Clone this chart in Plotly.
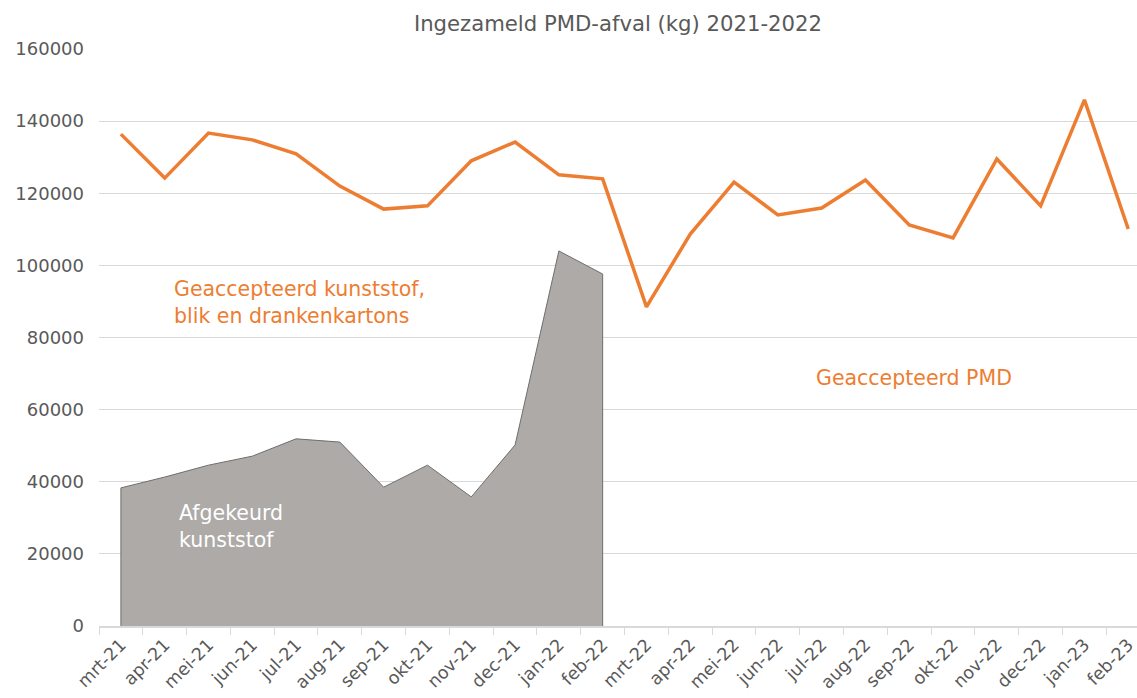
import plotly.graph_objects as go

months = ["mrt-21", "apr-21", "mei-21", "jun-21", "jul-21", "aug-21", "sep-21", "okt-21",
          "nov-21", "dec-21", "jan-22", "feb-22", "mrt-22", "apr-22", "mei-22", "jun-22",
          "jul-22", "aug-22", "sep-22", "okt-22", "nov-22", "dec-22", "jan-23", "feb-23"]

geaccepteerd = [136400, 124200, 136700, 134800, 130900, 122000, 115600, 116500,
                129000, 134200, 125100, 124000, 88500, 108700, 123100, 114000,
                115900, 123700, 111200, 107600, 129500, 116500, 145900, 110100]

afgekeurd_months = months[:12]
afgekeurd = [38300, 41300, 44600, 47100, 51900, 51000, 38500, 44600,
             35800, 50200, 104000, 97600]

y_ticks = [0, 20000, 40000, 60000, 80000, 100000, 120000, 140000, 160000]

FONT = "DejaVu Sans"
GRAY_TXT = "#595959"
ORANGE = "#ED7D31"

fig = go.Figure()

# closed polygon for the area (baseline at both ends)
area_x = [afgekeurd_months[0]] + afgekeurd_months + [afgekeurd_months[-1]]
area_y = [0] + afgekeurd + [0]
fig.add_trace(go.Scatter(
    x=area_x, y=area_y, mode="lines", fill="toself",
    fillcolor="#ADAAA8", line=dict(color="#6E6E6E", width=1),
    hoverinfo="skip", showlegend=False))

fig.add_trace(go.Scatter(
    x=months, y=geaccepteerd, mode="lines",
    line=dict(color=ORANGE, width=3.5), showlegend=False))

fig.update_layout(
    width=1137, height=698,
    margin=dict(l=99, r=0, t=49, b=72),
    paper_bgcolor="white", plot_bgcolor="white",
    font=dict(family=FONT, color=GRAY_TXT, size=18),
    title=dict(text="Ingezameld PMD-afval (kg) 2021-2022", x=0.5435, xanchor="center",
               y=0.966, yanchor="middle", font=dict(size=21.2, color=GRAY_TXT, family=FONT)),
)

fig.update_xaxes(
    type="category", categoryorder="array", categoryarray=months,
    range=[-0.5, 23.2], tickson="boundaries", ticks="outside", ticklen=7,
    tickcolor="#D9D9D9", tickangle=-45, showgrid=False, automargin=False,
    showline=True, linecolor="#D9D9D9", linewidth=1.5,
    tickfont=dict(size=17.5, color=GRAY_TXT, family=FONT))

fig.update_yaxes(
    range=[0, 160000], tickvals=y_ticks, ticktext=[str(v) for v in y_ticks],
    showgrid=True, gridcolor="#D9D9D9", gridwidth=1.3, zeroline=False, automargin=False,
    ticks="", ticklabelstandoff=14, tickfont=dict(size=18, color=GRAY_TXT, family=FONT))

fig.add_annotation(text="Geaccepteerd kunststof,<br>blik en drankenkartons",
                   xref="paper", yref="paper", x=0.0703, y=0.56, xanchor="left", yanchor="middle",
                   align="left", showarrow=False, font=dict(size=20.5, color=ORANGE, family=FONT))
fig.add_annotation(text="Geaccepteerd PMD",
                   xref="paper", yref="paper", x=0.689, y=0.43, xanchor="left", yanchor="middle",
                   align="left", showarrow=False, font=dict(size=20.5, color=ORANGE, family=FONT))
fig.add_annotation(text="Afgekeurd<br>kunststof",
                   xref="paper", yref="paper", x=0.075, y=0.172, xanchor="left", yanchor="middle",
                   align="left", showarrow=False, font=dict(size=20.5, color="white", family=FONT))

fig.write_html("out.html", config={"displayModeBar": False},
               post_script="document.body.style.margin='0';document.body.style.overflow='hidden';")
